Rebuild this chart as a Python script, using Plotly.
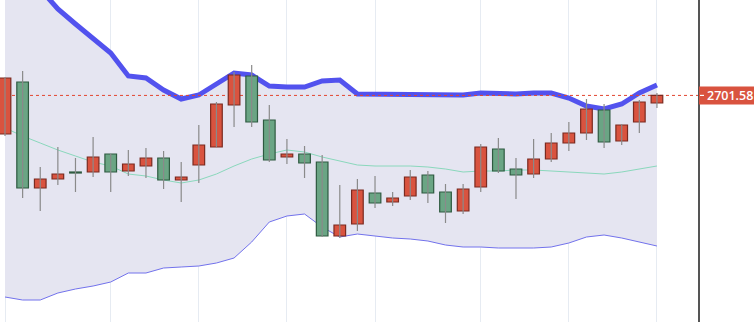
import plotly.graph_objects as go

# Candle data (index, open, high, low, close)
idx = list(range(38))
opens  = [2663, 2715, 2609, 2618, 2625, 2625, 2643, 2626, 2631, 2639,
          2617, 2632, 2650, 2692, 2721, 2677, 2640, 2643, 2635, 2561,
          2573, 2604, 2595, 2601, 2622, 2605, 2586, 2610, 2648, 2628,
          2623, 2638, 2654, 2664, 2687, 2656, 2675, 2694]
highs  = [2720, 2726, 2630, 2650, 2639, 2660, 2643, 2647, 2649, 2646,
          2635, 2672, 2695, 2725, 2732, 2692, 2658, 2651, 2642, 2612,
          2618, 2621, 2605, 2627, 2626, 2613, 2613, 2653, 2659, 2639,
          2658, 2664, 2675, 2698, 2693, 2673, 2697, 2704]
lows   = [2661, 2599, 2586, 2612, 2605, 2620, 2605, 2621, 2619, 2608,
          2595, 2614, 2650, 2670, 2670, 2635, 2633, 2619, 2560, 2559,
          2566, 2589, 2591, 2597, 2594, 2574, 2583, 2605, 2624, 2598,
          2619, 2635, 2646, 2657, 2649, 2652, 2664, 2689]
closes = [2719, 2609, 2618, 2623, 2624, 2640, 2625, 2633, 2639, 2617,
          2620, 2652, 2693, 2722, 2675, 2637, 2643, 2634, 2561, 2572,
          2607, 2594, 2599, 2620, 2604, 2585, 2608, 2650, 2626, 2622,
          2638, 2654, 2664, 2688, 2655, 2672, 2695, 2701.58]

# Bollinger bands
upper  = [2857, 2837, 2808, 2788, 2773, 2759, 2744, 2721, 2719, 2707,
          2698, 2702, 2713, 2724, 2722, 2711, 2710, 2710, 2716, 2717,
          2703, 2703, 2703, 2703, 2703, 2703, 2702, 2704, 2703, 2703,
          2704, 2704, 2699, 2691, 2688, 2693, 2704, 2712]
middle = [2669, 2661, 2654, 2647, 2641, 2635, 2631, 2623, 2621, 2617,
          2614, 2617, 2623, 2631, 2638, 2643, 2647, 2645, 2640, 2636,
          2632, 2631, 2631, 2631, 2630, 2628, 2625, 2626, 2626, 2627,
          2627, 2626, 2625, 2624, 2623, 2625, 2628, 2631]
lower  = [2500, 2497, 2497, 2504, 2508, 2511, 2515, 2524, 2524, 2529,
          2530, 2531, 2534, 2539, 2555, 2575, 2581, 2583, 2570, 2560,
          2563, 2561, 2559, 2558, 2556, 2552, 2550, 2550, 2549, 2549,
          2549, 2550, 2554, 2560, 2562, 2559, 2555, 2551]

grid_ticks = [0, 6, 11, 16, 21, 27, 32, 37]
last_price = closes[-1]

X_RANGE = [-0.284, 39.33]
Y_RANGE = [2475, 2797]

UP_FILL, UP_LINE = "#d9533f", "#7a2a20"
DN_FILL, DN_LINE = "#6aa584", "#2e5a40"

fig = go.Figure()

# Band fill and lines (base subplot)
fig.add_trace(go.Scatter(x=idx, y=lower, mode="lines",
                         line=dict(color="#7272ec", width=1), hoverinfo="skip"))
fig.add_trace(go.Scatter(x=idx, y=upper, mode="lines", fill="tonexty",
                         fillcolor="#e5e5f1",
                         line=dict(color="#5252ee", width=5), hoverinfo="skip"))
fig.add_trace(go.Scatter(x=idx, y=middle, mode="lines",
                         line=dict(color="#8ad8bc", width=1), hoverinfo="skip"))
# Last price dotted line
fig.add_trace(go.Scatter(x=X_RANGE, y=[last_price, last_price], mode="lines",
                         line=dict(color="#e2452f", width=1, dash="dot"),
                         hoverinfo="skip"))

# Wicks (overlay subplot, drawn above the bands)
wx, wy = [], []
for i, h, l in zip(idx, highs, lows):
    wx += [i, i, None]
    wy += [l, h, None]
fig.add_trace(go.Scatter(x=wx, y=wy, mode="lines", xaxis="x2", yaxis="y2",
                         line=dict(color="#8a8a8a", width=1.2), hoverinfo="skip"))

# Bodies
base = [min(o, c) for o, c in zip(opens, closes)]
height = [max(abs(c - o), 0.8) for o, c in zip(opens, closes)]
fills = [UP_FILL if c >= o else DN_FILL for o, c in zip(opens, closes)]
lines = [UP_LINE if c >= o else DN_LINE for o, c in zip(opens, closes)]
fig.add_trace(go.Bar(x=idx, y=height, base=base, width=0.66, xaxis="x2", yaxis="y2",
                     marker=dict(color=fills, line=dict(color=lines, width=1.2))))

# Last price label on the right axis
px = 1.0 / 698.0  # one pixel in paper units horizontally
fig.add_shape(type="rect", xref="paper", yref="y", x0=1 + 1 * px, x1=1 + 60 * px,
              y0=last_price - 9, y1=last_price + 9,
              fillcolor=UP_FILL, line=dict(width=0), layer="above")
fig.add_shape(type="line", xref="paper", yref="y", x0=1 + 2 * px, x1=1 + 6 * px,
              y0=last_price, y1=last_price,
              line=dict(color="white", width=1.2), layer="above")
fig.add_annotation(x=1 + 7 * px, xref="paper", xanchor="left",
                   y=last_price, yref="y", yanchor="middle",
                   text=f"{last_price:.2f}", showarrow=False,
                   font=dict(color="white", size=12.5, family="Open Sans", weight=600))

fig.update_layout(
    width=754, height=322,
    margin=dict(l=0, r=56, t=0, b=0),
    paper_bgcolor="white", plot_bgcolor="white",
    showlegend=False, barmode="overlay",
    xaxis=dict(range=X_RANGE, tickvals=grid_ticks, showticklabels=False,
               showgrid=True, gridcolor="#e6ebf2", gridwidth=1, zeroline=False,
               ticks=""),
    yaxis=dict(range=Y_RANGE, side="right", showticklabels=False,
               showgrid=False, zeroline=False, showline=True,
               linecolor="#555555", linewidth=1.5, ticks=""),
    xaxis2=dict(range=X_RANGE, overlaying="x", visible=False),
    yaxis2=dict(range=Y_RANGE, overlaying="y", visible=False),
)

fig.write_html("out.html")
